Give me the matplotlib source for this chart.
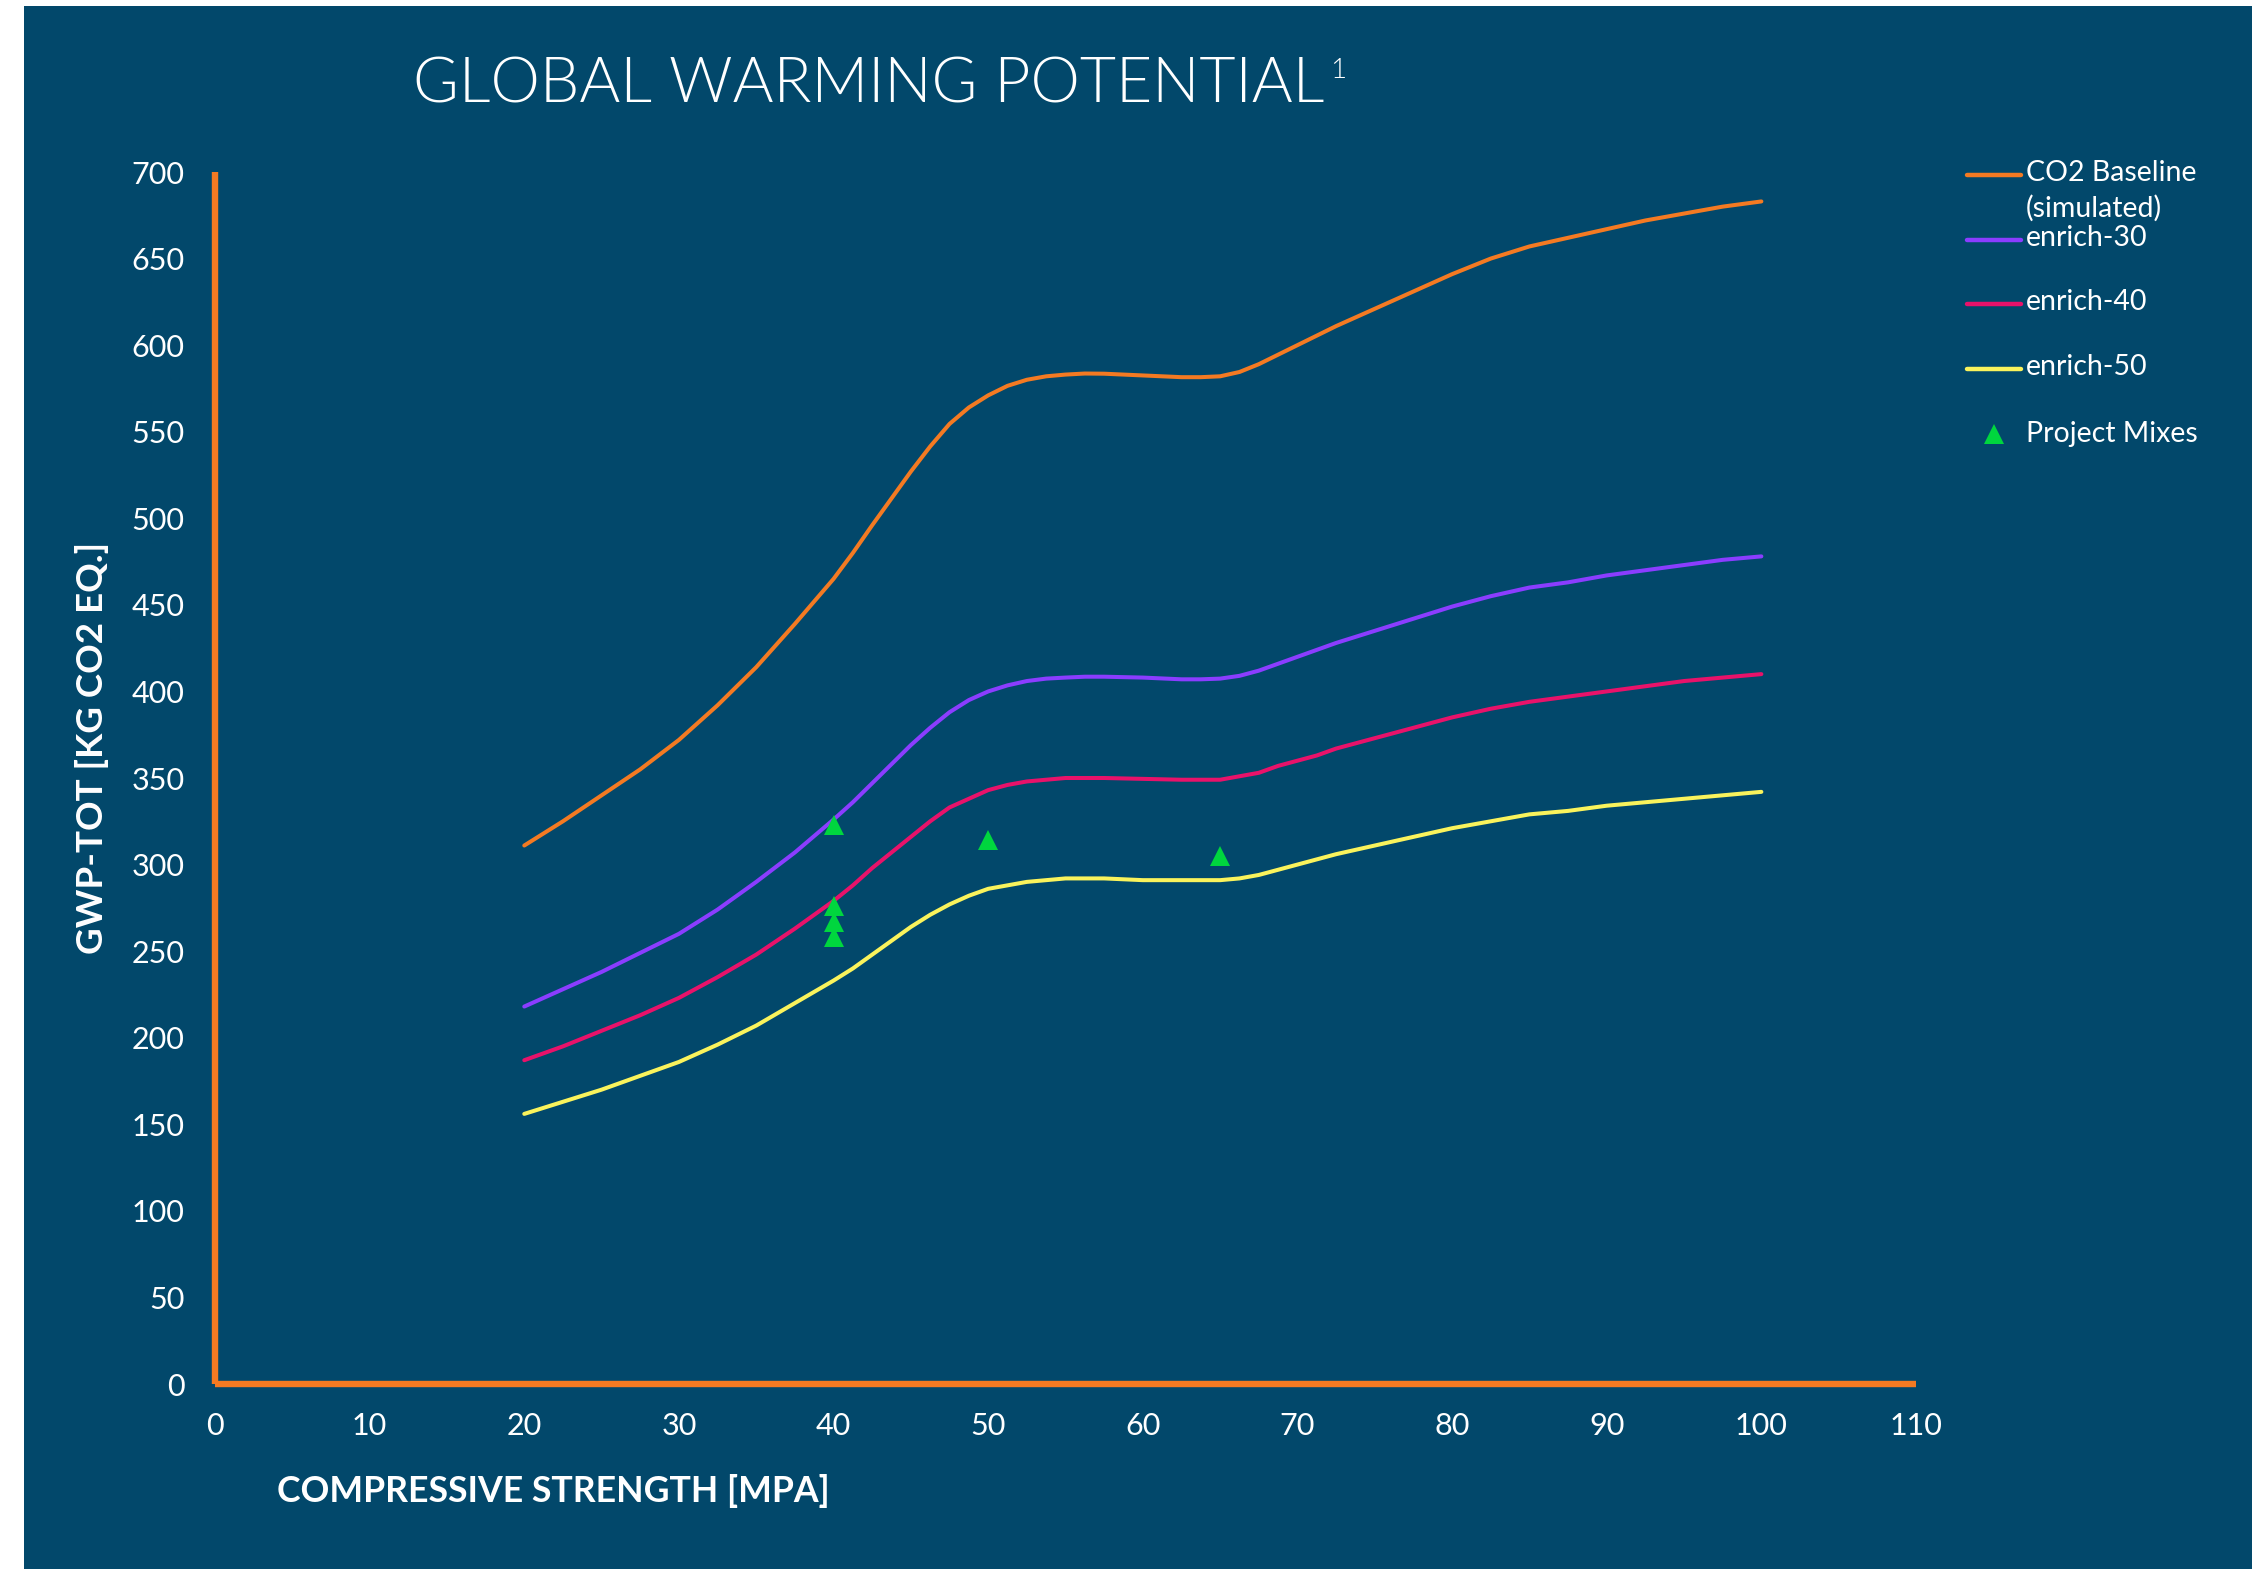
import matplotlib
matplotlib.use("Agg")
import matplotlib.pyplot as plt
from matplotlib.patches import Rectangle
from matplotlib.lines import Line2D

# compressive strength [MPa]; finer steps where the curves bend
strength = [20, 22.5, 25, 27.5, 30, 32.5, 35, 37.5, 40,
            41.25, 42.5, 43.75, 45, 46.25, 47.5, 48.75, 50, 51.25, 52.5, 53.75, 55, 56.25, 57.5,
            60, 62.5,
            63.75, 65, 66.25, 67.5, 68.75, 70, 71.25, 72.5,
            75, 77.5, 80, 82.5, 85, 87.5, 90, 92.5, 95, 97.5, 100]
baseline = [311, 325, 340, 355, 372, 392, 414, 439, 465,
            480, 496, 511.5, 527, 541.5, 554.5, 564, 571, 576.5, 580, 582, 583, 583.6, 583.5,
            582.5, 581.5,
            581.5, 582, 584.5, 589, 594.5, 600, 605.5, 611,
            621, 631, 641, 650, 657, 662, 667, 672, 676, 680, 683]
enrich30 = [218, 228, 238, 249, 260, 274, 290, 307, 326,
            336, 347, 358, 369, 379, 388, 395, 400, 403.5, 406, 407.4, 408, 408.5, 408.5,
            408, 407,
            407, 407.4, 409, 412, 416, 420, 424, 428,
            435, 442, 449, 455, 460, 463, 467, 470, 473, 476, 478]
enrich40 = [187, 195, 204, 213, 223, 235, 248, 263, 279,
            288, 298, 307, 316, 325, 333, 338, 343, 346, 348, 349, 350, 350, 350,
            349.5, 349,
            349, 349, 351, 353, 357, 360, 363, 367,
            373, 379, 385, 390, 394, 397, 400, 403, 406, 408, 410]
enrich50 = [156, 163, 170, 178, 186, 196, 207, 220, 233,
            240, 248, 256, 264, 271, 277, 282, 286, 288, 290, 291, 292, 292, 292,
            291, 291,
            291, 291, 292, 294, 297, 300, 303, 306,
            311, 316, 321, 325, 329, 331, 334, 336, 338, 340, 342]

mix_strength = [40, 40, 40, 40, 50, 65]
mix_gwp = [323, 276, 267, 258, 314, 305]

series_names = ["CO2 Baseline\n(simulated)", "enrich-30", "enrich-40", "enrich-50"]
series_colors = ["#F47A22", "#8B3DFF", "#E8126A", "#FAF35C"]
mix_name = "Project Mixes"
mix_color = "#00D63E"

x_ticks = list(range(0, 111, 10))
y_ticks = list(range(0, 701, 50))

bg = "#02486B"
spine_color = "#F47A22"
font = ["Lato", "DejaVu Sans"]

fig = plt.figure(figsize=(22.52, 15.69), dpi=100, facecolor="white")
fig.add_artist(Rectangle((24 / 2252, 0), 1, 1 - 6 / 1569, transform=fig.transFigure,
                         facecolor=bg, edgecolor="none", zorder=-10))

ax = fig.add_axes([215 / 2252, 1 - 1384 / 1569, (1916 - 215) / 2252, (1384 - 172) / 1569])
ax.set_facecolor("none")

for vals, c in zip([baseline, enrich30, enrich40, enrich50], series_colors):
    ax.plot(strength, vals, color=c, lw=2.9, solid_capstyle="round", solid_joinstyle="round")
ax.plot(mix_strength, mix_gwp, linestyle="none", marker="^", markersize=15,
        color=mix_color, markeredgewidth=0, zorder=5)

ax.set_xlim(0, 110)
ax.set_ylim(0, 700)
ax.set_xticks(x_ticks)
ax.set_yticks(y_ticks)
for s in ["top", "right"]:
    ax.spines[s].set_visible(False)
for s in ["left", "bottom"]:
    ax.spines[s].set_color(spine_color)
    ax.spines[s].set_linewidth(4.6)
    ax.spines[s].set_capstyle("butt")
ax.tick_params(length=0, labelcolor="white", labelsize=22)
ax.tick_params(axis="y", pad=22)
ax.tick_params(axis="x", pad=20)
for lab in ax.get_xticklabels() + ax.get_yticklabels():
    lab.set_family(font)

fig.text(277 / 2252, 1 - 1491 / 1569, "COMPRESSIVE STRENGTH [MPA]", color="white",
         fontsize=25.7, fontweight="bold", family=font, ha="left", va="center")
fig.text(92 / 2252, 1 - 748 / 1569, "GWP-TOT [KG CO2 EQ.]", color="white",
         fontsize=26.5, fontweight="bold", family=font, ha="center", va="center",
         rotation=90)

title = fig.text(413 / 2252, 1 - 85 / 1569, "GLOBAL WARMING POTENTIAL", color="white",
                 fontsize=45, fontweight=300, family=font, ha="left", va="center")
fig.canvas.draw()
tb = title.get_window_extent()
fig.text((tb.x1 + 6) / 2252, (tb.y1 - 2) / 1569, "1", color="white", fontsize=20,
         fontweight=300, family=font, ha="left", va="top")

# legend, drawn by hand so the line sits on the first text row
entry_y = [175, 240, 304, 369]
for name, c, yy in zip(series_names, series_colors, entry_y):
    yf = 1 - yy / 1569
    fig.add_artist(Line2D([1967 / 2252, 2021 / 2252], [yf, yf], transform=fig.transFigure,
                          color=c, lw=3.2, solid_capstyle="round"))
    fig.text(2026 / 2252, yf + 15 / 1569, name, color="white", fontsize=20.5,
             family=font, ha="left", va="top", linespacing=1.4)
yf = 1 - 434 / 1569
fig.add_artist(Line2D([1994 / 2252], [yf], transform=fig.transFigure, marker="^",
                      markersize=15, color=mix_color, markeredgewidth=0, linestyle="none"))
fig.text(2026 / 2252, yf, mix_name, color="white", fontsize=20.5, family=font,
         ha="left", va="center")

fig.savefig("out.png", dpi=100, facecolor="white")
